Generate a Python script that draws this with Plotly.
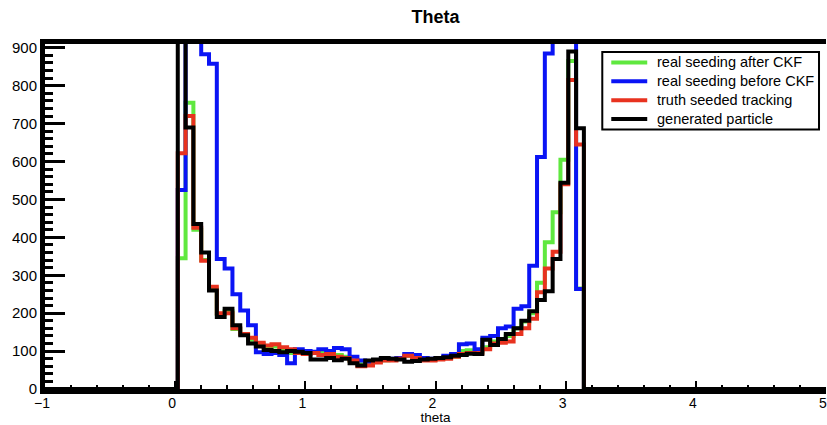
import numpy as np
import plotly.graph_objects as go

# Histogram binning: 100 bins over [-1, 5]; filled bins start at theta = 0.02
hist_lo, hist_hi, n_bins = -1.0, 5.0, 100
first_filled_bin = 17

series_names = [
    "real seeding after CKF",
    "real seeding before CKF",
    "truth seeded tracking",
    "generated particle",
]
series_colors = ["#5fe83f", "#0a14f5", "#e8321f", "#000000"]

# Bin contents from theta = 0.02 to 3.14 (52 bins of width 0.06)
real_after_ckf = [
    345, 755, 420, 340, 265, 198, 205, 158, 145, 130, 118, 110,
    112, 105, 95, 100, 98, 95, 98, 95, 90, 85, 75, 65, 68, 72, 76, 78, 82, 88, 84, 78, 77, 80, 82, 86, 100, 102, 98,
    110, 125, 130, 140, 160, 178, 200, 280, 387, 466, 605, 865, 265,
]
real_before_ckf = [
    525, 1500, 1500, 883, 858, 343, 318, 250, 207, 168, 97, 92,
    95, 90, 68, 105, 100, 98, 105, 100, 108, 105, 85, 75, 72, 75, 78, 80, 82, 92, 90, 82, 80, 82, 88, 92, 118, 120, 105,
    135, 140, 160, 165, 212, 218, 325, 612, 885, 1500, 1500, 1500, 264,
]
truth_seeded = [
    622, 720, 425, 338, 270, 200, 200, 160, 145, 135, 122, 115,
    118, 110, 105, 95, 92, 95, 90, 92, 85, 82, 75, 60, 62, 70, 75, 75, 80, 88, 82, 75, 75, 78, 80, 85, 92, 95, 95,
    105, 120, 122, 125, 145, 160, 185, 255, 318, 362, 540, 815, 645,
]
generated = [
    1800, 690, 435, 360, 260, 190, 212, 168, 142, 120, 112, 103,
    100, 97, 100, 98, 95, 78, 78, 82, 76, 80, 68, 62, 75, 78, 82, 80, 78, 72, 74, 78, 80, 82, 84, 88, 90, 93, 92,
    130, 116, 132, 145, 160, 180, 205, 235, 258, 343, 544, 890, 688,
]

edges = hist_lo + (hist_hi - hist_lo) / n_bins * np.arange(n_bins + 1)


def full_hist(counts):
    h = np.zeros(n_bins)
    h[first_filled_bin:first_filled_bin + len(counts)] = counts
    return h


fig = go.Figure()
for name, counts, color in zip(
    series_names,
    [real_after_ckf, real_before_ckf, truth_seeded, generated],
    series_colors,
):
    h = full_hist(counts)
    fig.add_trace(go.Scatter(
        x=edges,
        y=np.append(h, h[-1]),
        mode="lines",
        line=dict(shape="hv", color=color, width=4),
        name=name,
        showlegend=False,
    ))

# Page geometry of the plotting frame (pixels), used to place the legend box
W, H = 827, 425
M_L, M_R, M_T, M_B = 45, 0, 44, 34
plot_w = W - M_L - M_R
plot_h = H - M_T - M_B


def px_x(p):
    return (p - M_L) / plot_w


def px_y(p):
    return (H - M_B - p) / plot_h


# Legend drawn as a framed box with line samples and labels
shapes = [dict(
    type="rect", xref="paper", yref="paper",
    x0=px_x(603), x1=px_x(820), y0=px_y(130), y1=px_y(52),
    line=dict(color="black", width=2), fillcolor="white", layer="above",
)]
annotations = []
row_y = [62.5, 81.5, 100.5, 119.5]
for name, color, ry in zip(series_names, series_colors, row_y):
    shapes.append(dict(
        type="line", xref="paper", yref="paper",
        x0=px_x(612), x1=px_x(648), y0=px_y(ry), y1=px_y(ry),
        line=dict(color=color, width=4), layer="above",
    ))
    annotations.append(dict(
        text=name, xref="paper", yref="paper",
        x=px_x(656), y=px_y(ry), xanchor="left", yanchor="middle",
        showarrow=False, font=dict(size=14.5, color="black"),
    ))

font_family = "Liberation Sans, Arial, Helvetica, sans-serif"

fig.update_layout(
    width=W,
    height=H,
    margin=dict(l=M_L, r=M_R, t=M_T, b=M_B),
    paper_bgcolor="white",
    plot_bgcolor="white",
    font=dict(family=font_family, size=15, color="black"),
    title=dict(
        text="<b>Theta</b>",
        x=0.5, xref="paper", xanchor="center",
        y=0.96, yref="container", yanchor="middle",
        font=dict(size=18, color="black"),
    ),
    showlegend=False,
    shapes=shapes,
    annotations=annotations,
    xaxis=dict(
        range=[hist_lo, hist_hi],
        tick0=0, dtick=1,
        ticks="inside", ticklen=8, tickwidth=2, tickcolor="black",
        minor=dict(ticks="inside", dtick=0.2, ticklen=4, tickwidth=2, tickcolor="black"),
        showline=True, linewidth=5, linecolor="black", mirror=True,
        showgrid=False, zeroline=False,
        title=dict(text="theta", font=dict(size=13.5), standoff=5),
        tickfont=dict(size=14),
        ticklabeloverflow="allow",
        ticklabelshift=-3,
        ticklabelstandoff=-3,
    ),
    yaxis=dict(
        range=[0, 910],
        tick0=0, dtick=100,
        ticks="inside", ticklen=20, tickwidth=3, tickcolor="black",
        minor=dict(ticks="inside", dtick=20, ticklen=8, tickwidth=3, tickcolor="black"),
        showline=True, linewidth=5, linecolor="black",
        showgrid=False, zeroline=False,
        tickfont=dict(size=15),
    ),
)

fig.write_html("out.html")
